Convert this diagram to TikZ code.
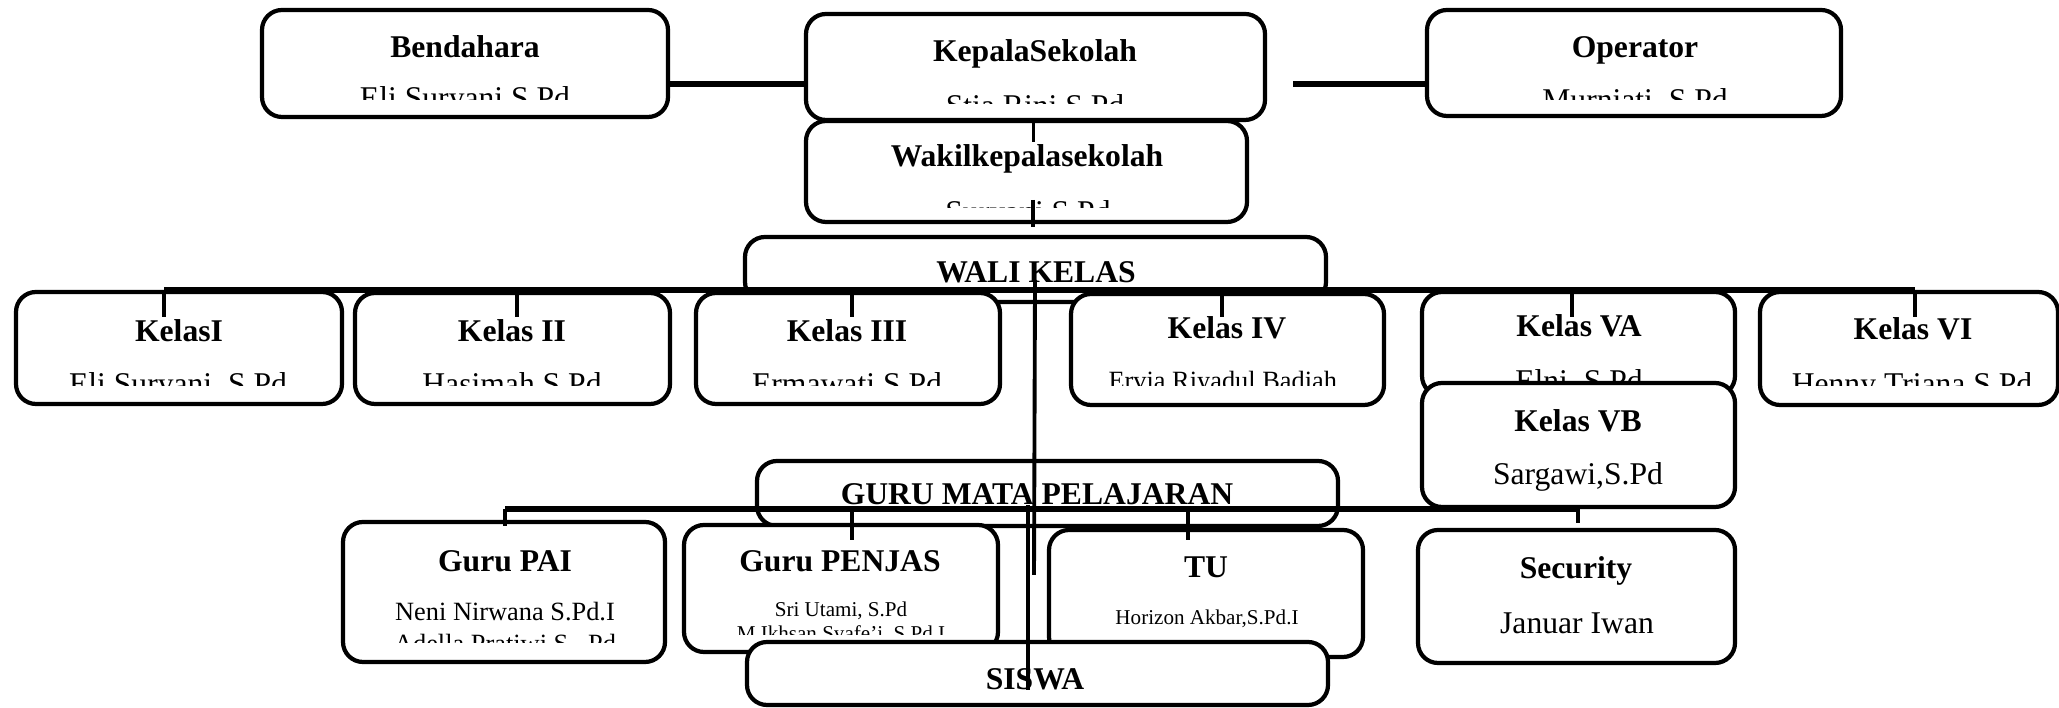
\documentclass[tikz,border=0pt]{standalone}
\usepackage{fontspec}
\setmainfont{Liberation Serif}
\usepackage{tikz}

\begin{document}
\begin{tikzpicture}[
    orgbox/.style={draw, line width=1.2pt, rounded corners=0.2cm, fill=white, inner sep=0pt, outer sep=0pt},
    head/.style={font=\fontsize{9}{10}\selectfont\bfseries, anchor=base, inner sep=0pt},
    person/.style={font=\fontsize{9}{10}\selectfont, anchor=base, inner sep=0pt},
    personmid/.style={font=\fontsize{7.5}{9}\selectfont, anchor=base, inner sep=0pt},
    personsmall/.style={font=\fontsize{6}{7}\selectfont, anchor=base, inner sep=0pt},
    link/.style={line width=1.5pt},
    stub/.style={line width=1.1pt}]

    \useasboundingbox (0,0) rectangle (20.59,7.08);

    % pimpinan
    \node[orgbox, minimum width=4.06cm, minimum height=1.07cm] (bendahara) at (4.65,6.445) {};
    \node[head] (bendahara-t) at (4.65,6.50) {Bendahara};

    \node[orgbox, minimum width=4.59cm, minimum height=1.06cm] (kepsek) at (10.355,6.41) {};
    \node[head] (kepsek-t) at (10.35,6.46) {KepalaSekolah};

    \node[orgbox, minimum width=4.14cm, minimum height=1.06cm] (operator) at (16.34,6.45) {};
    \node[head] (operator-t) at (16.35,6.50) {Operator};

    \node[orgbox, minimum width=4.41cm, minimum height=1.01cm] (wakil) at (10.265,5.365) {};
    \node[head] (wakil-t) at (10.27,5.41) {Wakilkepalasekolah};

    % wali kelas
    \node[orgbox, minimum width=5.81cm, minimum height=0.65cm] (walikelas) at (10.355,4.385) {};
    \node[head] (walikelas-t) at (10.36,4.25) {WALI KELAS};

    \node[orgbox, minimum width=3.26cm, minimum height=1.12cm] (kelasi) at (1.79,3.60) {};
    \node[head] (kelasi-t) at (1.79,3.66) {KelasI};

    \node[orgbox, minimum width=3.15cm, minimum height=1.11cm] (kelasii) at (5.125,3.595) {};
    \node[head] (kelasii-t) at (5.12,3.66) {Kelas II};

    \node[orgbox, minimum width=3.04cm, minimum height=1.11cm] (kelasiii) at (8.48,3.595) {};
    \node[head] (kelasiii-t) at (8.47,3.66) {Kelas III};

    \node[orgbox, minimum width=3.13cm, minimum height=1.11cm] (kelasiv) at (12.275,3.585) {};
    \node[head] (kelasiv-t) at (12.27,3.69) {Kelas IV};

    \node[orgbox, minimum width=3.13cm, minimum height=1.04cm] (kelasva) at (15.785,3.64) {};
    \node[head] (kelasva-t) at (15.79,3.71) {Kelas VA};

    \node[orgbox, minimum width=2.98cm, minimum height=1.13cm] (kelasvi) at (19.09,3.595) {};
    \node[head] (kelasvi-t) at (19.13,3.68) {Kelas VI};

    \node[orgbox, minimum width=3.13cm, minimum height=1.24cm] (kelasvb) at (15.785,2.63) {};
    \node[head] (kelasvb-t) at (15.78,2.76) {Kelas VB};
    \node[person] (kelasvb-n) at (15.78,2.23) {Sargawi,S.Pd};

    % guru
    \node[orgbox, minimum width=5.81cm, minimum height=0.65cm] (gurumapel) at (10.475,2.145) {};
    \node[head] (gurumapel-t) at (10.37,2.03) {GURU MATA PELAJARAN};

    \node[orgbox, minimum width=3.22cm, minimum height=1.40cm] (gurupai) at (5.04,1.16) {};
    \node[head] (gurupai-t) at (5.05,1.36) {Guru PAI};
    \node[personmid] (gurupai-n) at (5.05,0.87) {Neni Nirwana S.Pd.I};

    \node[orgbox, minimum width=3.14cm, minimum height=1.27cm] (gurupenjas) at (8.41,1.195) {};
    \node[head] (gurupenjas-t) at (8.40,1.36) {Guru PENJAS};
    \node[personsmall] (gurupenjas-n) at (8.41,0.91) {Sri Utami, S.Pd};

    \node[orgbox, minimum width=3.14cm, minimum height=1.27cm] (tu) at (12.06,1.145) {};
    \node[head] (tu-t) at (12.06,1.30) {TU};
    \node[personsmall] (tu-n) at (12.07,0.83) {Horizon Akbar,S.Pd.I};

    \node[orgbox, minimum width=3.17cm, minimum height=1.33cm] (security) at (15.765,1.115) {};
    \node[head] (security-t) at (15.76,1.29) {Security};
    \node[person] (security-n) at (15.77,0.74) {Januar Iwan};

    % nama yang terpotong
    \begin{scope}
        \clip (2.62,7.00) rectangle (6.68,6.08)
              (8.06,6.96) rectangle (12.65,6.04)
              (14.27,7.00) rectangle (18.41,6.08)
              (8.06,5.87) rectangle (12.47,5.00)
              (0.16,4.16) rectangle (3.42,3.22)
              (3.55,4.15) rectangle (6.70,3.22)
              (6.96,4.15) rectangle (10.00,3.22)
              (10.71,4.14) rectangle (13.84,3.22)
              (14.22,4.17) rectangle (17.35,3.25)
              (17.60,4.16) rectangle (20.58,3.22)
              (3.43,1.86) rectangle (6.65,0.65)
              (6.84,1.83) rectangle (9.98,0.73);
        \node[person] (bendahara-n) at (4.65,5.99) {Eli Suryani S.Pd};
        \node[person] (kepsek-n) at (10.35,5.91) {Stia Rini S.Pd};
        \node[person] (operator-n) at (16.35,5.97) {Murniati, S.Pd};
        \node[person] (wakil-n) at (10.28,4.85) {Suryani S.Pd};
        \node[person] (kelasi-n) at (1.78,3.13) {Eli Suryani,  S.Pd};
        \node[person] (kelasii-n) at (5.12,3.13) {Hasimah S.Pd};
        \node[person] (kelasiii-n) at (8.47,3.13) {Ermawati S.Pd};
        \node[personmid] (kelasiv-n) at (12.26,3.18) {Ervia Riyadul Badiah,};
        \node[person] (kelasva-n) at (15.79,3.16) {Elni, S.Pd};
        \node[person] (kelasvi-n) at (19.12,3.13) {Henny Triana S.Pd};
        \node[personmid] (gurupai-n2) at (5.05,0.55) {Adella Pratiwi S., Pd};
        \node[personsmall] (gurupenjas-n2) at (8.41,0.67) {M.Ikhsan Syafe'i, S.Pd.I};
    \end{scope}

    \node[orgbox, minimum width=5.81cm, minimum height=0.63cm] (siswa) at (10.375,0.345) {};
    \node[head] (siswa-t) at (10.35,0.18) {SISWA};

    % garis
    \coordinate (bk) at (0,6.24);
    \draw[link] (bendahara.east |- bk) -- (kepsek.west |- bk);
    \coordinate (kofree) at (12.93,6.24);
    \draw[link] (kofree) -- (operator.west |- kofree);

    \draw[stub] ([xshift=-0.02cm]kepsek.south) -- ([xshift=-0.02cm,yshift=-0.22cm]kepsek.south);
    \draw[stub] ([xshift=0.065cm,yshift=0.22cm]wakil.south) -- ([xshift=0.065cm,yshift=-0.05cm]wakil.south);

    \coordinate (kline) at (0,4.18);
    \draw[link] ([xshift=-0.15cm]kelasi.north |- kline) -- ([xshift=0.06cm]kelasvi.north |- kline);
    \foreach \k/\d in {kelasi/-0.15, kelasii/0.045, kelasiii/0.04, kelasiv/-0.055, kelasva/-0.065, kelasvi/0.06}
        \draw[stub] ([xshift=\d cm]\k.north |- kline) -- ([xshift=\d cm]\k.north |- 0,3.91);

    \coordinate (gline) at (0,1.99);
    \draw[link] ([xshift=0.01cm]gurupai.north |- gline) -- ([xshift=0.015cm]security.north |- gline);
    \foreach \k/\d/\e in {gurupai/0.01/1.82, gurupenjas/0.11/1.68, tu/-0.18/1.68, security/0.015/1.85}
        \draw[stub] ([xshift=\d cm]\k.north |- gline) -- ([xshift=\d cm]\k.north |- 0,\e);

    \coordinate (atop) at (10.35,4.28);
    \coordinate (abot) at (10.34,1.33);
    \draw[stub] (atop) -- (abot);
    \coordinate (btop) at (10.28,2.03);
    \coordinate (bbot) at (10.28,0.18);
    \draw[stub] (btop) -- (bbot);

\end{tikzpicture}
\end{document}
